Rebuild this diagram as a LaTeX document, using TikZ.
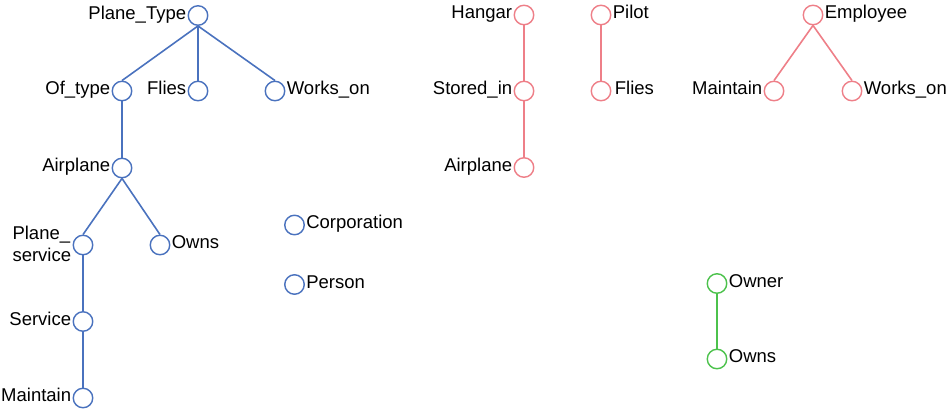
\documentclass[tikz,border=0pt]{standalone}
\usepackage{fontspec}
\setmainfont{Liberation Sans}
\definecolor{blueC}{HTML}{4A72BE}
\definecolor{redC}{HTML}{EE7F88}
\definecolor{greenC}{HTML}{4CC24C}
\tikzset{
  vtx/.style={circle, draw, line width=1.4pt, minimum size=19.5pt, inner sep=0pt, fill=white},
  bv/.style={vtx, draw=blueC},
  rv/.style={vtx, draw=redC},
  gv/.style={vtx, draw=greenC},
  lbl/.style={font=\fontsize{18.5}{21}\selectfont, inner sep=1.2pt, text height=0.72em, text depth=0.02em},
  lblm/.style={font=\fontsize{18.5}{22.5}\selectfont, inner sep=1.2pt, align=left},
  be/.style={draw=blueC, line width=1.6pt},
  re/.style={draw=redC, line width=1.6pt},
  ge/.style={draw=greenC, line width=1.6pt},
}
\begin{document}
\begin{tikzpicture}[x=1pt,y=-1pt]
\useasboundingbox (0,0) rectangle (952,410);
% blue tree
\node[bv, label={[lbl]left:Plane\_Type}] (pt) at (198,15.5) {};
\node[bv, label={[lbl]left:Of\_type}] (of) at (122,91) {};
\node[bv, label={[lbl]left:Flies}] (fl) at (198,91) {};
\node[bv, label={[lbl]right:Works\_on}] (wo) at (275,91) {};
\node[bv, label={[lbl]left:Airplane}] (ap) at (122,168) {};
\node[bv] (ps) at (83,245) {};
\node[lblm, anchor=east] (psl) at ([yshift=1pt]ps.west) {Plane\_\\service};
\node[bv, label={[lbl]right:Owns}] (ow) at (160,245) {};
\node[bv, label={[lbl]left:Service}] (sv) at (83,321.5) {};
\node[bv, label={[lbl]left:Maintain}] (mt) at (83,398) {};
\node[bv, label={[lbl]right:Corporation}] (co) at (294.5,225) {};
\node[bv, label={[lbl]right:Person}] (pe) at (294.5,284.5) {};
\path[be] (pt.south) -- (of.north);
\path[be] (pt.south) -- (fl.north);
\path[be] (pt.south) -- (wo.north);
\path[be] (of.south) -- (ap.north);
\path[be] (ap.south) -- (ps.north);
\path[be] (ap.south) -- (ow.north);
\path[be] (ps.south) -- (sv.north);
\path[be] (sv.south) -- (mt.north);
% red trees
\node[rv, label={[lbl]left:Hangar}] (hg) at (524,15) {};
\node[rv, label={[lbl]left:Stored\_in}] (si) at (524,91) {};
\node[rv, label={[lbl]left:Airplane}] (ra) at (524,167.5) {};
\node[rv, label={[lbl]right:Pilot}] (pi) at (601,15) {};
\node[rv, label={[lbl,xshift=2pt]right:Flies}] (rf) at (601,91) {};
\node[rv, label={[lbl]right:Employee}] (em) at (813,15) {};
\node[rv, label={[lbl]left:Maintain}] (rm) at (774,91) {};
\node[rv, label={[lbl]right:Works\_on}] (rw) at (852,91) {};
\path[re] (hg.south) -- (si.north);
\path[re] (si.south) -- (ra.north);
\path[re] (pi.south) -- (rf.north);
\path[re] (em.south) -- (rm.north);
\path[re] (em.south) -- (rw.north);
% green tree
\node[gv, label={[lbl]right:Owner}] (on) at (717,283.5) {};
\node[gv, label={[lbl]right:Owns}] (gs) at (717,359) {};
\path[ge] (on.south) -- (gs.north);
\end{tikzpicture}
\end{document}
